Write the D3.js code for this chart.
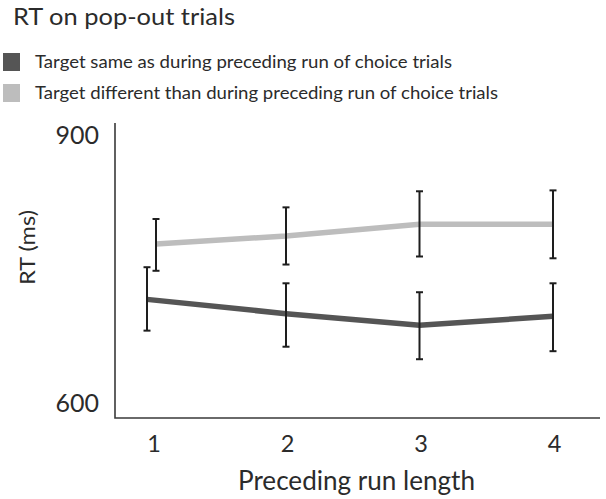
<!DOCTYPE html>
<html>
<head>
<meta charset="utf-8">
<script src="https://cdn.jsdelivr.net/npm/d3@7"></script>
<style>
  html, body { margin: 0; padding: 0; background: #fff; }
  svg { display: block; }
  text { font-family: Lato, "Open Sans", sans-serif; fill: #2b2b2b; }
</style>
</head>
<body>
<svg id="chart" width="606" height="499"></svg>
<script>
// ---- data ----
const categories = [1, 2, 3, 4];
const seriesNames = [
  "Target same as during preceding run of choice trials",
  "Target different than during preceding run of choice trials"
];
const sameMean  = [716, 700, 687, 697];
const sameLow   = [681, 663, 649, 658];
const sameHigh  = [752, 734, 724, 734];
const diffMean  = [778, 787, 800, 800];
const diffLow   = [748, 755, 764, 762];
const diffHigh  = [806, 819, 837, 838];
const yTicks = [600, 900];
const title = "RT on pop-out trials";
const xLabel = "Preceding run length";
const yLabel = "RT (ms)";

// ---- layout ----
const svg = d3.select("#chart");
const colors = ["#555555", "#bdbdbd"];

const x = d3.scaleLinear().domain([1, 4]).range([152.5, 553]);
const y = d3.scaleLinear().domain([600, 900]).range([403, 135]);
const axisX0 = 115, axisY0 = 418, axisTop = 123, axisRight = 600;

// fit a text element to a target width
function fit(sel, w) {
  sel.attr("textLength", w).attr("lengthAdjust", "spacingAndGlyphs");
  return sel;
}

// title
fit(svg.append("text").attr("x", 13).attr("y", 25)
  .attr("font-size", 23.5).text(title), 222);

// legend
const legendW = [417, 463];
seriesNames.forEach((name, i) => {
  const yy = 53 + i * 31;
  svg.append("rect").attr("x", 3).attr("y", yy).attr("width", 17).attr("height", 18)
    .attr("fill", colors[i]);
  fit(svg.append("text").attr("x", 35).attr("y", yy + 14.5)
    .attr("font-size", 17).text(name), legendW[i]);
});

// axes
svg.append("path")
  .attr("d", `M${axisX0},${axisTop}V${axisY0}H${axisRight}`)
  .attr("fill", "none").attr("stroke", "#3a3a3a").attr("stroke-width", 1.6);

svg.selectAll(".ytick").data(yTicks).enter().append("text")
  .attr("class", "ytick")
  .attr("x", 99).attr("y", d => y(d) + 9)
  .attr("text-anchor", "end").attr("font-size", 25).text(d => d);

svg.selectAll(".xtick").data(categories).enter().append("text")
  .attr("class", "xtick")
  .attr("x", d => x(d) + 1.5).attr("y", 452)
  .attr("text-anchor", "middle").attr("font-size", 23.5).text(d => d);

fit(svg.append("text").attr("x", 238).attr("y", 490)
  .attr("font-size", 26).text(xLabel), 237);

fit(svg.append("text")
  .attr("transform", `translate(35,285) rotate(-90)`)
  .attr("font-size", 21).text(yLabel), 75);

// series
const series = [
  { mean: sameMean, low: sameLow, high: sameHigh, dodge: -5.5 },
  { mean: diffMean, low: diffLow, high: diffHigh, dodge: 3.5 }
];
// the first point of each series is slightly dodged so error bars don't overlap
const px = (s, i) => x(categories[i]) + (i === 0 ? s.dodge : 0);

const line = d3.line().x(d => d[0]).y(d => d[1]);

series.slice().reverse().forEach((s, ri) => {
  const si = series.length - 1 - ri;
  const pts = s.mean.map((m, i) => [px(s, i), y(m)]);
  svg.append("path").attr("d", line(pts))
    .attr("fill", "none").attr("stroke", colors[si]).attr("stroke-width", 5.5);
});

series.forEach(s => {
  const g = svg.append("g").attr("stroke", "#1e1e1e").attr("stroke-width", 2);
  s.mean.forEach((m, i) => {
    const cx = px(s, i);
    g.append("line").attr("x1", cx).attr("x2", cx)
      .attr("y1", y(s.low[i])).attr("y2", y(s.high[i]));
    [s.low[i], s.high[i]].forEach(v => {
      g.append("line").attr("x1", cx - 3.5).attr("x2", cx + 3.5)
        .attr("y1", y(v)).attr("y2", y(v));
    });
  });
});
</script>
</body>
</html>
